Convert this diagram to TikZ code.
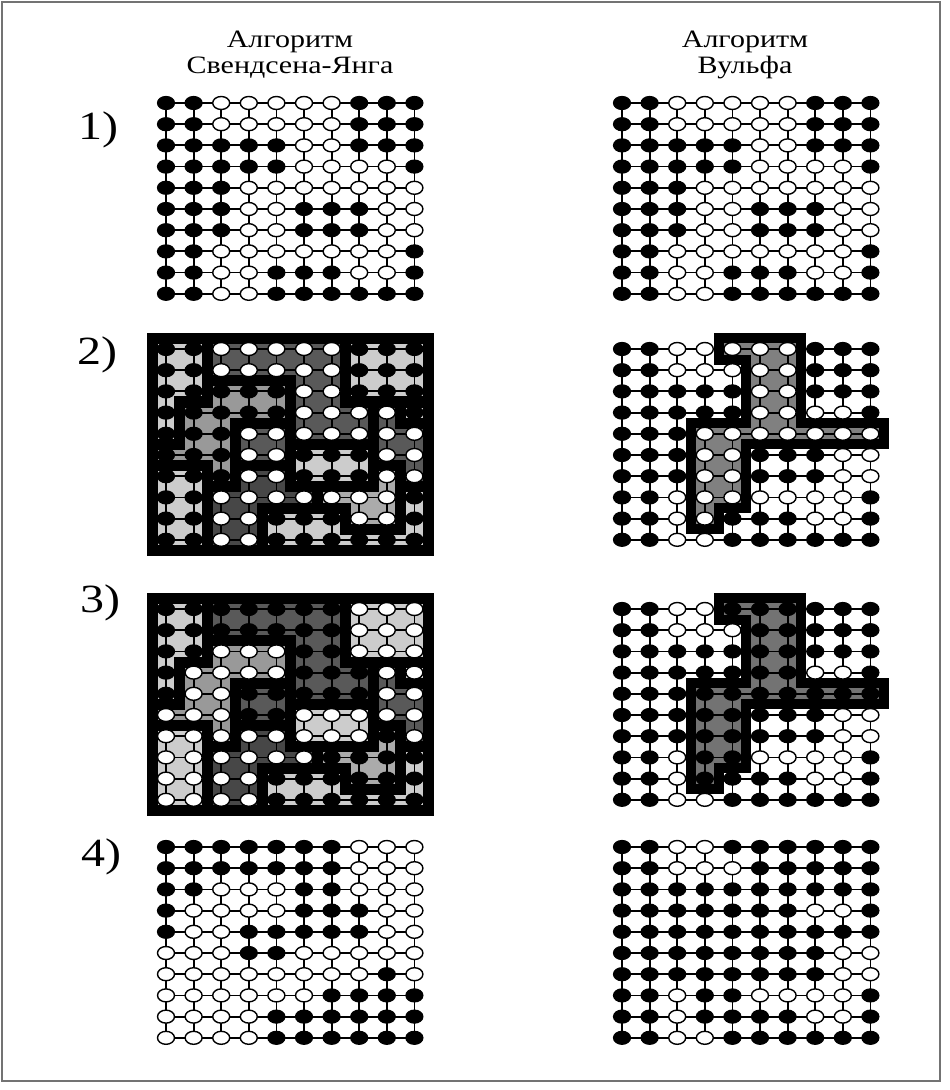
\documentclass[tikz,border=0pt]{standalone}
\usepackage{fontspec}
\setmainfont{Liberation Serif}
\usetikzlibrary{shapes.geometric}
\pgfdeclarelayer{bg}
\pgfdeclarelayer{mid}
\pgfsetlayers{bg,mid,main}

\def\DX{27.6}
\def\DY{21.2}

% configurations: 1 = black, 0 = white (row by row, top to bottom)
\def\cfgA{{1,1,0,0,0,0,0,1,1,1,
1,1,0,0,0,0,0,1,1,1,
1,1,1,1,1,0,0,1,1,1,
1,1,1,1,1,0,0,0,0,1,
1,1,1,0,0,0,0,0,0,0,
1,1,1,0,0,1,1,1,0,0,
1,1,1,0,0,1,1,1,0,0,
1,1,0,0,0,0,0,0,0,1,
1,1,0,0,1,1,1,0,0,1,
1,1,0,0,1,1,1,1,1,1}}
\def\cfgS{{1,1,1,1,1,1,1,0,0,0,
1,1,1,1,1,1,1,0,0,0,
1,1,0,0,0,1,1,0,0,0,
1,0,0,0,0,1,1,1,0,0,
1,0,0,1,1,1,1,1,0,0,
0,0,0,1,1,0,0,0,0,0,
0,0,0,0,0,0,0,0,1,0,
0,0,0,0,0,0,1,1,1,1,
0,0,0,0,1,1,1,1,1,1,
0,0,0,0,1,1,1,1,1,1}}
\def\cfgW{{1,1,0,0,1,1,1,1,1,1,
1,1,0,0,0,1,1,1,1,1,
1,1,1,1,1,1,1,1,1,1,
1,1,1,1,1,1,1,0,0,1,
1,1,1,1,1,1,1,1,1,1,
1,1,1,1,1,1,1,1,0,0,
1,1,1,1,1,1,1,1,0,0,
1,1,0,1,1,0,0,0,0,1,
1,1,0,1,1,1,1,0,0,1,
1,1,0,0,1,1,1,1,1,1}}
% Swendsen-Wang cluster ids
\def\clu{{1,1,4,4,4,4,4,5,5,5,
1,1,4,4,4,4,4,5,5,5,
1,1,3,3,3,4,4,5,5,5,
1,3,3,3,3,4,4,4,7,6,
1,3,3,9,9,4,4,4,7,7,
3,3,3,9,9,11,11,11,7,7,
2,2,3,10,10,11,11,11,8,7,
2,2,10,10,10,10,8,8,8,12,
2,2,10,10,12,12,12,8,8,12,
2,2,10,10,12,12,12,12,12,12}}
% shade (percent black) of each cluster id
\def\shd{{0,20,20,40,65,20,20,65,33,65,72,20,20}}

\tikzset{
  bsite/.style={ellipse,fill=black,draw=black,line width=0.6pt,minimum width=8.5pt,minimum height=6.5pt,inner sep=0pt},
  wsite/.style={ellipse,fill=white,draw=black,line width=0.7pt,minimum width=8.5pt,minimum height=6.5pt,inner sep=0pt},
  lat/.style={draw=black,line width=0.9pt},
  band/.style={draw=black,line width=5.5pt,line cap=rect},
  wband/.style={draw=black,line width=5pt,line join=miter},
  ttl/.style={font=\fontsize{12.5}{14}\selectfont,inner sep=0pt},
  num/.style={font=\fontsize{20}{22}\selectfont,inner sep=0pt}
}

\newcommand\latgrid[4]{%
  \foreach \ri in {1,...,10}{\foreach \ci in {1,...,10}{%
    \pgfmathtruncatemacro\kk{(\ri-1)*10+\ci-1}%
    \pgfmathtruncatemacro\vv{#4[\kk]}%
    \ifnum\vv=1
      \node[bsite] (#1-\ri-\ci) at ({#2+(\ci-1)*\DX},{#3+(\ri-1)*\DY}) {};
    \else
      \node[wsite] (#1-\ri-\ci) at ({#2+(\ci-1)*\DX},{#3+(\ri-1)*\DY}) {};
    \fi
  }}%
  \begin{pgfonlayer}{bg}
  \foreach \ri in {1,...,10}{%
    \draw[lat] (#1-\ri-1.center) -- (#1-\ri-10.center);
    \draw[lat] (#1-1-\ri.center) -- (#1-10-\ri.center);
  }%
  \end{pgfonlayer}
}

\newcommand\swclusters[2]{%
  \begin{pgfonlayer}{bg}
  \foreach \ri in {1,...,10}{\foreach \ci in {1,...,10}{%
    \pgfmathtruncatemacro\kk{(\ri-1)*10+\ci-1}%
    \pgfmathtruncatemacro\ca{\clu[\kk]}%
    \pgfmathtruncatemacro\csh{\shd[\ca]}%
    \fill[black!\csh] ({#1+(\ci-1.5)*\DX-0.4},{#2+(\ri-1.5)*\DY-0.4}) rectangle ({#1+(\ci-0.5)*\DX+0.4},{#2+(\ri-0.5)*\DY+0.4});
  }}%
  \end{pgfonlayer}
  \begin{pgfonlayer}{mid}
  \foreach \ri in {1,...,10}{\foreach \ci in {1,...,9}{%
    \pgfmathtruncatemacro\kk{(\ri-1)*10+\ci-1}%
    \pgfmathtruncatemacro\ca{\clu[\kk]}%
    \pgfmathtruncatemacro\cb{\clu[\kk+1]}%
    \ifnum\ca=\cb\else
      \draw[band] ({#1+(\ci-0.5)*\DX},{#2+(\ri-1.5)*\DY}) -- ({#1+(\ci-0.5)*\DX},{#2+(\ri-0.5)*\DY});
    \fi
  }}%
  \foreach \ri in {1,...,9}{\foreach \ci in {1,...,10}{%
    \pgfmathtruncatemacro\kk{(\ri-1)*10+\ci-1}%
    \pgfmathtruncatemacro\ca{\clu[\kk]}%
    \pgfmathtruncatemacro\cb{\clu[\kk+10]}%
    \ifnum\ca=\cb\else
      \draw[band] ({#1+(\ci-1.5)*\DX},{#2+(\ri-0.5)*\DY}) -- ({#1+(\ci-0.5)*\DX},{#2+(\ri-0.5)*\DY});
    \fi
  }}%
  \draw[band,line join=miter] ({#1-0.5*\DX},{#2-0.5*\DY}) rectangle ({#1+9.5*\DX},{#2+9.5*\DY});
  \end{pgfonlayer}
}

\newcommand\wolffpath[2]{({#1+3.5*\DX},{#2-0.5*\DY}) -- ({#1+6.5*\DX},{#2-0.5*\DY}) -- ({#1+6.5*\DX},{#2+3.5*\DY}) -- ({#1+9.5*\DX},{#2+3.5*\DY}) -- ({#1+9.5*\DX},{#2+4.5*\DY}) -- ({#1+4.5*\DX},{#2+4.5*\DY}) -- ({#1+4.5*\DX},{#2+7.5*\DY}) -- ({#1+3.5*\DX},{#2+7.5*\DY}) -- ({#1+3.5*\DX},{#2+8.5*\DY}) -- ({#1+2.5*\DX},{#2+8.5*\DY}) -- ({#1+2.5*\DX},{#2+3.5*\DY}) -- ({#1+4.5*\DX},{#2+3.5*\DY}) -- ({#1+4.5*\DX},{#2+0.5*\DY}) -- ({#1+3.5*\DX},{#2+0.5*\DY}) -- cycle}

\newcommand\wolff[3]{%
  \begin{pgfonlayer}{bg}
  \fill[black!#3] \wolffpath{#1}{#2};
  \end{pgfonlayer}
  \begin{pgfonlayer}{mid}
  \draw[wband] \wolffpath{#1}{#2};
  \end{pgfonlayer}
}

\begin{document}
\begin{tikzpicture}[x=0.5pt,y=-0.5pt]
\useasboundingbox (0,0) rectangle (949,1090);
\begin{pgfonlayer}{bg}
\fill[white] (0,0) rectangle (949,1090);
\end{pgfonlayer}
\draw[black!55,line width=0.8pt] (2,2) rectangle (940,1081);

% titles
\node[ttl] (tl1) at (290,42) {\scalebox{1.2}[1]{Алгоритм}};
\node[ttl] (tl2) at (290,68) {\scalebox{1.2}[1]{Свендсена-Янга}};
\node[ttl] (tr1) at (745,42) {\scalebox{1.2}[1]{Алгоритм}};
\node[ttl] (tr2) at (745,68) {\scalebox{1.2}[1]{Вульфа}};

% step labels
\node[num] (n1) at (98,130) {\scalebox{1.2}[1]{1)}};
\node[num] (n2) at (97,355) {\scalebox{1.2}[1]{2)}};
\node[num] (n3) at (100,603) {\scalebox{1.2}[1]{3)}};
\node[num] (n4) at (101,857) {\scalebox{1.2}[1]{4)}};

% row 1
\latgrid{a1}{166}{103}{\cfgA}
\latgrid{b1}{622}{103}{\cfgA}
% row 2
\swclusters{166}{349}
\latgrid{a2}{166}{349}{\cfgA}
\wolff{622}{349}{50}
\latgrid{b2}{622}{349}{\cfgA}
% row 3
\swclusters{166}{609}
\latgrid{a3}{166}{609}{\cfgS}
\wolff{622}{609}{55}
\latgrid{b3}{622}{609}{\cfgW}
% row 4
\latgrid{a4}{166}{847}{\cfgS}
\latgrid{b4}{622}{847}{\cfgW}
\end{tikzpicture}
\end{document}
